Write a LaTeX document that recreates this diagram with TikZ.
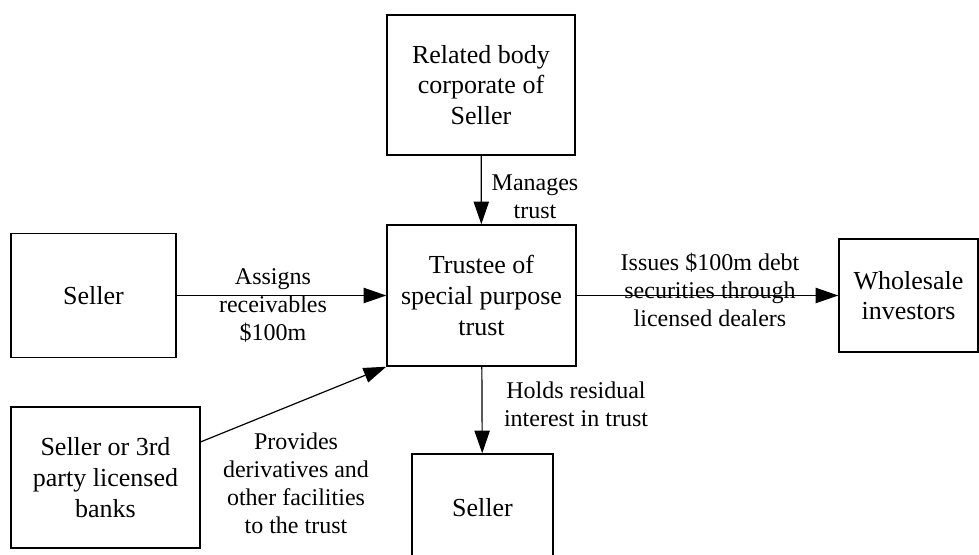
\documentclass[tikz,border=0pt]{standalone}
\usepackage{fontspec}
\setmainfont{Liberation Serif}
\usetikzlibrary{arrows.meta,calc}
\tikzset{
	box/.style={draw, line width=1.1pt, inner sep=0pt, align=center, font=\fontsize{19.5}{23}\selectfont},
	lbl/.style={align=center, inner sep=0pt, font=\fontsize{18}{21}\selectfont},
	arr/.style={line width=0.9pt, -{Triangle[length=17pt,width=11.5pt]}}
}
\begin{document}
\begin{tikzpicture}[x=0.75pt,y=-0.75pt]
	\useasboundingbox (0,0) rectangle (979,555);
	% boxes
	\node[box, minimum width=141pt, minimum height=105pt] (related) at (481,85) {Related body\\corporate of\\Seller};
	\node[box, minimum width=141.75pt, minimum height=105.75pt] (trustee) at (481.5,295.5) {Trustee of\\special purpose\\trust};
	\node[box, minimum width=123.75pt, minimum height=93pt] (seller) at (93.5,295.5) {Seller};
	\node[box, minimum width=141.75pt, minimum height=105.75pt] (banks) at (105.5,477.5) {Seller or 3rd\\party licensed\\banks};
	\node[box, minimum width=105.75pt, minimum height=81pt] (residual) at (482.5,508) {Seller};
	\node[box, minimum width=104.25pt, minimum height=84.75pt] (investors) at (908.5,295.5) {Wholesale\\investors};
	\coordinate (banksout) at ($(banks.north east)!0.25!(banks.south east)$);
	% connectors
	\draw[arr] (related) -- (trustee);
	\draw[arr] (seller) -- (trustee);
	\draw[arr] (trustee) -- (investors);
	\draw[arr] (banksout) -- (trustee.south west);
	\draw[arr] (trustee) -- (residual);
	% labels
	\node[lbl] (manages) at (535,197) {Manages\\trust};
	\node[lbl] (assigns) at (273,305) {Assigns\\receivables\\\$100m};
	\node[lbl] (issues) at (710,290) {Issues \$100m debt\\securities through\\licensed dealers};
	\node[lbl] (provides) at (296,483) {Provides\\derivatives and\\other facilities\\to the trust};
	\node[lbl] (holds) at (576,404) {Holds residual\\interest in trust};
\end{tikzpicture}
\end{document}
